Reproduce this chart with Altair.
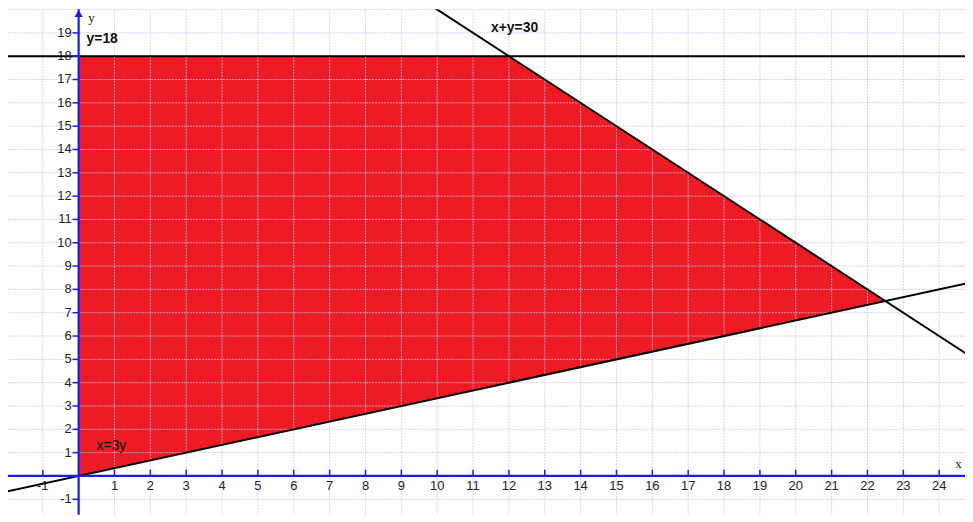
import altair as alt
import pandas as pd

# ---- data ----
x_tick_values = [-1] + list(range(1, 25))
y_tick_values = [-1] + list(range(1, 20))
grid_x_values = list(range(-2, 25))
grid_y_values = list(range(-1, 21))

region_x = [0, 12, 22.5]
region_upper = [18, 18, 7.5]
region_lower = [0, 4, 7.5]

line_y18_x = [-3, 26]
line_y18_y = [18, 18]
line_sum_x = [9, 26]
line_sum_y = [21, 4]
line_3y_x = [-3, 26]
line_3y_y = [-1, 26 / 3]

label_text = ["y=18", "x+y=30"]
label_x = [0.22, 11.5]
label_y = [18.73, 19.2]

label2_text = ["x=3y"]
label2_x = [0.5]
label2_y = [1.3]

XMIN, XMAX = -1.97, 24.72
YMIN, YMAX = -1.66, 20.01

xs = alt.Scale(domain=[XMIN, XMAX], nice=False, zero=False)
ys = alt.Scale(domain=[YMIN, YMAX], nice=False, zero=False)

def X(f="x"):
    return alt.X(f"{f}:Q", scale=xs, axis=None)

def Y(f="y"):
    return alt.Y(f"{f}:Q", scale=ys, axis=None)

region = pd.DataFrame({"x": region_x, "y": region_upper, "y2": region_lower})
area = alt.Chart(region).mark_area(color="#ED1C24", opacity=1, clip=True).encode(
    x=X(), y=Y(), y2="y2:Q"
)

gx = pd.DataFrame({"x": grid_x_values})
gy = pd.DataFrame({"y": grid_y_values})
grid_style = dict(color="#c2c2fa", strokeWidth=1, strokeDash=[2, 1], opacity=0.75, clip=True)
gridx = alt.Chart(gx).mark_rule(**grid_style).encode(x=X())
gridy = alt.Chart(gy).mark_rule(**grid_style).encode(y=Y())

def line(xv, yv):
    df = pd.DataFrame({"x": xv, "y": yv})
    return alt.Chart(df).mark_line(color="#000000", strokeWidth=2, clip=True).encode(x=X(), y=Y())

l1 = line(line_y18_x, line_y18_y)
l2 = line(line_sum_x, line_sum_y)
l3 = line(line_3y_x, line_3y_y)

axis_color = "#1a1aff"
xaxis = alt.Chart(pd.DataFrame({"y": [0]})).mark_rule(color=axis_color, strokeWidth=2.2).encode(y=Y())
yaxis = alt.Chart(pd.DataFrame({"x": [0]})).mark_rule(color=axis_color, strokeWidth=2.2).encode(x=X())
arrow = alt.Chart(pd.DataFrame({"x": [0], "y": [19.83]})).mark_point(
    shape="triangle-up", filled=True, color=axis_color, size=70, opacity=1
).encode(x=X(), y=Y())

xt = pd.DataFrame({"x": x_tick_values, "y": [0] * len(x_tick_values), "y2": [0.27] * len(x_tick_values),
                   "t": [str(v) for v in x_tick_values]})
yt = pd.DataFrame({"y": y_tick_values, "x": [0] * len(y_tick_values), "x2": [-0.17] * len(y_tick_values),
                   "t": [str(v) for v in y_tick_values]})
xticks = alt.Chart(xt).mark_rule(color=axis_color, strokeWidth=1.5).encode(x=X(), y=Y(), y2="y2:Q")
yticks = alt.Chart(yt).mark_rule(color=axis_color, strokeWidth=1.5).encode(y=Y(), x=X(), x2="x2:Q")
xlabels = alt.Chart(xt).mark_text(
    font="Liberation Sans", fontSize=13, color="#222222", baseline="top", align="center", dy=4
).encode(x=X(), y=Y(), text="t:N")
ylabels = alt.Chart(yt).mark_text(
    font="Liberation Sans", fontSize=13, color="#222222", baseline="middle", align="right", dx=-7
).encode(x=X(), y=Y(), text="t:N")

ylab = alt.Chart(pd.DataFrame({"x": [0.36], "y": [19.62], "t": ["y"]})).mark_text(
    font="Liberation Serif", fontSize=13, color="#222222", align="center", baseline="middle"
).encode(x=X(), y=Y(), text="t:N")
xlab = alt.Chart(pd.DataFrame({"x": [24.45], "y": [0.5], "t": ["x"]})).mark_text(
    font="Liberation Serif", fontSize=13, color="#222222", align="left", baseline="middle"
).encode(x=X(), y=Y(), text="t:N")

lab1 = alt.Chart(pd.DataFrame({"x": label_x, "y": label_y, "t": label_text})).mark_text(
    font="Liberation Sans", fontSize=14, fontWeight="bold", color="#111111", align="left", baseline="middle"
).encode(x=X(), y=Y(), text="t:N")
lab2 = alt.Chart(pd.DataFrame({"x": label2_x, "y": label2_y, "t": label2_text})).mark_text(
    font="Liberation Sans", fontSize=14, color="#111111", align="left", baseline="middle"
).encode(x=X(), y=Y(), text="t:N")

chart = alt.layer(
    area, gridx, gridy, l1, l2, l3, xaxis, yaxis, arrow, xticks, yticks,
    xlabels, ylabels, ylab, xlab, lab1, lab2
).properties(
    width=962, height=508, padding=0, autosize=alt.AutoSizeParams(type="none"),
    background="#ffffff"
).configure_view(strokeWidth=0)

chart.save("out.html", embed_options={"renderer": "svg", "actions": False})
